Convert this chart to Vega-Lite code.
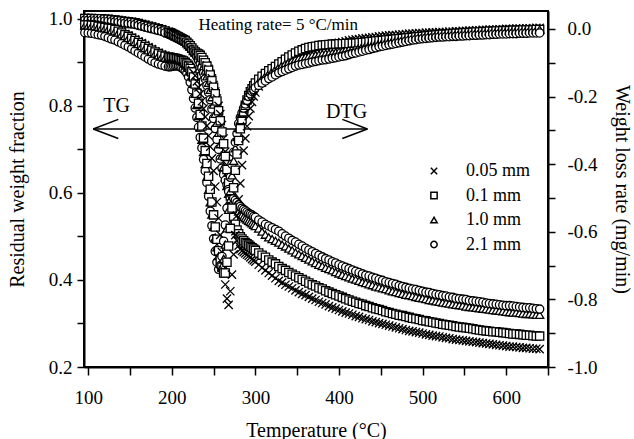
{
"$schema": "https://vega.github.io/schema/vega-lite/v6.json",
"width": 464, "height": 356,
"autosize": {"type": "none"},
"padding": {"left": 84, "top": 11, "right": 86, "bottom": 72},
"background": "white",
"config": {
 "font": "Liberation Serif",
 "view": {"stroke": "black", "strokeWidth": 2},
 "axis": {"domainColor": "black", "domainWidth": 2, "tickColor": "black", "tickWidth": 1.5, "labelColor": "black", "titleColor": "black", "labelFont": "Liberation Serif", "titleFont": "Liberation Serif", "labelFontSize": 19, "titleFontSize": 20, "titleFontWeight": "normal", "grid": false, "labelFlush": false, "labelOverlap": false}
},
"datasets": {
 "arrows": [
  {"T":106,"v":0.747,"T2":434,"v2":0.747},
  {"T":106,"v":0.747,"T2":136,"v2":0.769},
  {"T":106,"v":0.747,"T2":136,"v2":0.725},
  {"T":434,"v":0.747,"T2":404,"v2":0.769},
  {"T":434,"v":0.747,"T2":404,"v2":0.725}
 ],
 "labels": [{"T":134,"v":0.786,"label":"TG"},{"T":409,"v":0.772,"label":"DTG"}],
 "heat": [{"T":232,"v":0.975,"label":"Heating rate= 5 °C/min"}],
 "tg": [
{"T":96,"x":1.002,"q":1.001,"t":0.999,"o":0.997},
{"T":100,"x":1.002,"q":1.001,"t":0.999,"o":0.997},
{"T":104,"x":1.002,"q":1.001,"t":0.999,"o":0.997},
{"T":108,"x":1.001,"q":1.000,"t":0.998,"o":0.996},
{"T":112,"x":1.001,"q":1.000,"t":0.998,"o":0.996},
{"T":116,"x":1.001,"q":1.000,"t":0.998,"o":0.996},
{"T":120,"x":1.000,"q":0.999,"t":0.997,"o":0.995},
{"T":124,"x":1.000,"q":0.999,"t":0.997,"o":0.995},
{"T":128,"x":0.999,"q":0.998,"t":0.996,"o":0.994},
{"T":132,"x":0.998,"q":0.997,"t":0.995,"o":0.993},
{"T":136,"x":0.997,"q":0.996,"t":0.994,"o":0.992},
{"T":140,"x":0.996,"q":0.995,"t":0.993,"o":0.991},
{"T":144,"x":0.995,"q":0.994,"t":0.992,"o":0.990},
{"T":148,"x":0.994,"q":0.993,"t":0.991,"o":0.989},
{"T":152,"x":0.993,"q":0.992,"t":0.990,"o":0.988},
{"T":156,"x":0.992,"q":0.991,"t":0.989,"o":0.987},
{"T":160,"x":0.990,"q":0.989,"t":0.987,"o":0.985},
{"T":164,"x":0.988,"q":0.987,"t":0.985,"o":0.983},
{"T":168,"x":0.986,"q":0.985,"t":0.983,"o":0.981},
{"T":172,"x":0.984,"q":0.983,"t":0.981,"o":0.979},
{"T":176,"x":0.982,"q":0.981,"t":0.979,"o":0.977},
{"T":180,"x":0.980,"q":0.979,"t":0.977,"o":0.975},
{"T":184,"x":0.978,"q":0.977,"t":0.975,"o":0.973},
{"T":188,"x":0.976,"q":0.975,"t":0.973,"o":0.971},
{"T":192,"x":0.973,"q":0.972,"t":0.970,"o":0.968},
{"T":196,"x":0.970,"q":0.969,"t":0.967,"o":0.965},
{"T":198,"x":0.969,"q":0.968,"t":0.966,"o":0.964},
{"T":200,"x":0.967,"q":0.966,"t":0.964,"o":0.962},
{"T":202,"x":0.965,"q":0.964,"t":0.962,"o":0.960},
{"T":204,"x":0.963,"q":0.962,"t":0.960,"o":0.958},
{"T":206,"x":0.961,"q":0.960,"t":0.958,"o":0.956},
{"T":208,"x":0.959,"q":0.958,"t":0.956,"o":0.954},
{"T":210,"x":0.957,"q":0.956,"t":0.954,"o":0.952},
{"T":212,"x":0.955,"q":0.954,"t":0.952,"o":0.950},
{"T":214,"x":0.953,"q":0.952,"t":0.950,"o":0.948},
{"T":216,"x":0.950,"q":0.950,"t":0.948,"o":0.946},
{"T":218,"x":0.946,"q":0.946,"t":0.944,"o":0.942},
{"T":220,"x":0.942,"q":0.942,"t":0.940,"o":0.938},
{"T":222,"x":0.938,"q":0.938,"t":0.936,"o":0.934},
{"T":224,"x":0.933,"q":0.933,"t":0.931,"o":0.929},
{"T":226,"x":0.928,"q":0.928,"t":0.926,"o":0.924},
{"T":228,"x":0.924,"q":0.924,"t":0.923,"o":0.920},
{"T":230,"x":0.921,"q":0.921,"t":0.919,"o":0.913},
{"T":232,"x":0.919,"q":0.919,"t":0.914,"o":0.905},
{"T":234,"x":0.916,"q":0.916,"t":0.908,"o":0.897},
{"T":236,"x":0.911,"q":0.911,"t":0.900,"o":0.887},
{"T":238,"x":0.906,"q":0.905,"t":0.891,"o":0.875},
{"T":240,"x":0.900,"q":0.899,"t":0.881,"o":0.862},
{"T":242,"x":0.893,"q":0.891,"t":0.868,"o":0.847},
{"T":244,"x":0.885,"q":0.882,"t":0.853,"o":0.831},
{"T":246,"x":0.874,"q":0.871,"t":0.837,"o":0.814},
{"T":248,"x":0.863,"q":0.858,"t":0.820,"o":0.793},
{"T":250,"x":0.848,"q":0.843,"t":0.803,"o":0.771},
{"T":252,"x":0.833,"q":0.828,"t":0.782,"o":0.748},
{"T":254,"x":0.817,"q":0.811,"t":0.761,"o":0.723},
{"T":256,"x":0.800,"q":0.789,"t":0.738,"o":0.700},
{"T":258,"x":0.781,"q":0.766,"t":0.712,"o":0.678},
{"T":260,"x":0.756,"q":0.740,"t":0.686,"o":0.657},
{"T":262,"x":0.725,"q":0.713,"t":0.660,"o":0.642},
{"T":264,"x":0.695,"q":0.684,"t":0.636,"o":0.629},
{"T":266,"x":0.664,"q":0.654,"t":0.616,"o":0.618},
{"T":268,"x":0.632,"q":0.623,"t":0.598,"o":0.608},
{"T":270,"x":0.600,"q":0.593,"t":0.585,"o":0.600},
{"T":272,"x":0.569,"q":0.567,"t":0.578,"o":0.594},
{"T":274,"x":0.540,"q":0.545,"t":0.572,"o":0.588},
{"T":276,"x":0.512,"q":0.528,"t":0.567,"o":0.583},
{"T":278,"x":0.491,"q":0.515,"t":0.562,"o":0.578},
{"T":280,"x":0.479,"q":0.506,"t":0.557,"o":0.573},
{"T":282,"x":0.471,"q":0.499,"t":0.553,"o":0.569},
{"T":284,"x":0.467,"q":0.494,"t":0.549,"o":0.565},
{"T":286,"x":0.464,"q":0.490,"t":0.545,"o":0.562},
{"T":288,"x":0.461,"q":0.486,"t":0.542,"o":0.559},
{"T":290,"x":0.458,"q":0.483,"t":0.539,"o":0.556},
{"T":292,"x":0.455,"q":0.480,"t":0.536,"o":0.553},
{"T":294,"x":0.452,"q":0.477,"t":0.533,"o":0.551},
{"T":296,"x":0.448,"q":0.474,"t":0.530,"o":0.549},
{"T":298,"x":0.445,"q":0.471,"t":0.527,"o":0.546},
{"T":300,"x":0.442,"q":0.468,"t":0.524,"o":0.544},
{"T":304,"x":0.435,"q":0.462,"t":0.518,"o":0.538},
{"T":308,"x":0.428,"q":0.457,"t":0.511,"o":0.533},
{"T":312,"x":0.422,"q":0.452,"t":0.504,"o":0.528},
{"T":316,"x":0.416,"q":0.446,"t":0.498,"o":0.524},
{"T":320,"x":0.410,"q":0.441,"t":0.494,"o":0.520},
{"T":324,"x":0.404,"q":0.437,"t":0.490,"o":0.516},
{"T":328,"x":0.398,"q":0.431,"t":0.486,"o":0.512},
{"T":332,"x":0.394,"q":0.426,"t":0.481,"o":0.506},
{"T":336,"x":0.389,"q":0.422,"t":0.477,"o":0.501},
{"T":340,"x":0.385,"q":0.417,"t":0.472,"o":0.496},
{"T":344,"x":0.381,"q":0.413,"t":0.468,"o":0.491},
{"T":348,"x":0.376,"q":0.409,"t":0.463,"o":0.487},
{"T":352,"x":0.372,"q":0.405,"t":0.459,"o":0.482},
{"T":356,"x":0.368,"q":0.401,"t":0.455,"o":0.478},
{"T":360,"x":0.365,"q":0.397,"t":0.451,"o":0.473},
{"T":364,"x":0.361,"q":0.393,"t":0.447,"o":0.469},
{"T":368,"x":0.357,"q":0.389,"t":0.443,"o":0.465},
{"T":372,"x":0.354,"q":0.386,"t":0.439,"o":0.461},
{"T":376,"x":0.350,"q":0.382,"t":0.435,"o":0.457},
{"T":380,"x":0.347,"q":0.379,"t":0.432,"o":0.453},
{"T":384,"x":0.344,"q":0.375,"t":0.428,"o":0.449},
{"T":388,"x":0.340,"q":0.372,"t":0.425,"o":0.446},
{"T":392,"x":0.337,"q":0.369,"t":0.422,"o":0.442},
{"T":396,"x":0.334,"q":0.366,"t":0.418,"o":0.439},
{"T":400,"x":0.331,"q":0.363,"t":0.415,"o":0.435},
{"T":404,"x":0.328,"q":0.360,"t":0.412,"o":0.432},
{"T":408,"x":0.325,"q":0.357,"t":0.409,"o":0.429},
{"T":412,"x":0.323,"q":0.354,"t":0.406,"o":0.426},
{"T":416,"x":0.320,"q":0.351,"t":0.403,"o":0.423},
{"T":420,"x":0.317,"q":0.349,"t":0.401,"o":0.420},
{"T":424,"x":0.315,"q":0.346,"t":0.398,"o":0.417},
{"T":428,"x":0.312,"q":0.344,"t":0.395,"o":0.414},
{"T":432,"x":0.310,"q":0.341,"t":0.393,"o":0.411},
{"T":436,"x":0.308,"q":0.339,"t":0.390,"o":0.409},
{"T":440,"x":0.305,"q":0.336,"t":0.388,"o":0.406},
{"T":444,"x":0.303,"q":0.334,"t":0.385,"o":0.404},
{"T":448,"x":0.301,"q":0.332,"t":0.383,"o":0.401},
{"T":452,"x":0.299,"q":0.330,"t":0.381,"o":0.399},
{"T":456,"x":0.297,"q":0.327,"t":0.379,"o":0.396},
{"T":460,"x":0.295,"q":0.325,"t":0.376,"o":0.394},
{"T":464,"x":0.293,"q":0.323,"t":0.374,"o":0.392},
{"T":468,"x":0.291,"q":0.321,"t":0.372,"o":0.390},
{"T":472,"x":0.289,"q":0.319,"t":0.370,"o":0.387},
{"T":476,"x":0.287,"q":0.318,"t":0.368,"o":0.385},
{"T":480,"x":0.285,"q":0.316,"t":0.366,"o":0.383},
{"T":484,"x":0.283,"q":0.314,"t":0.365,"o":0.381},
{"T":488,"x":0.282,"q":0.312,"t":0.363,"o":0.379},
{"T":492,"x":0.280,"q":0.311,"t":0.361,"o":0.378},
{"T":496,"x":0.279,"q":0.309,"t":0.359,"o":0.376},
{"T":500,"x":0.277,"q":0.307,"t":0.358,"o":0.374},
{"T":504,"x":0.275,"q":0.306,"t":0.356,"o":0.372},
{"T":508,"x":0.274,"q":0.304,"t":0.354,"o":0.371},
{"T":512,"x":0.272,"q":0.303,"t":0.353,"o":0.369},
{"T":516,"x":0.271,"q":0.301,"t":0.351,"o":0.367},
{"T":520,"x":0.270,"q":0.300,"t":0.350,"o":0.366},
{"T":524,"x":0.268,"q":0.298,"t":0.348,"o":0.364},
{"T":528,"x":0.267,"q":0.297,"t":0.347,"o":0.363},
{"T":532,"x":0.266,"q":0.296,"t":0.346,"o":0.361},
{"T":536,"x":0.264,"q":0.295,"t":0.344,"o":0.360},
{"T":540,"x":0.263,"q":0.293,"t":0.343,"o":0.358},
{"T":544,"x":0.262,"q":0.292,"t":0.342,"o":0.357},
{"T":548,"x":0.261,"q":0.291,"t":0.341,"o":0.356},
{"T":552,"x":0.260,"q":0.290,"t":0.339,"o":0.355},
{"T":556,"x":0.259,"q":0.289,"t":0.338,"o":0.353},
{"T":560,"x":0.258,"q":0.288,"t":0.337,"o":0.352},
{"T":564,"x":0.257,"q":0.286,"t":0.336,"o":0.351},
{"T":568,"x":0.256,"q":0.285,"t":0.335,"o":0.350},
{"T":572,"x":0.255,"q":0.284,"t":0.334,"o":0.349},
{"T":576,"x":0.254,"q":0.283,"t":0.333,"o":0.347},
{"T":580,"x":0.253,"q":0.282,"t":0.332,"o":0.346},
{"T":584,"x":0.252,"q":0.281,"t":0.331,"o":0.345},
{"T":588,"x":0.251,"q":0.281,"t":0.330,"o":0.344},
{"T":592,"x":0.250,"q":0.280,"t":0.329,"o":0.343},
{"T":596,"x":0.249,"q":0.279,"t":0.328,"o":0.342},
{"T":600,"x":0.248,"q":0.278,"t":0.327,"o":0.341},
{"T":604,"x":0.247,"q":0.277,"t":0.326,"o":0.341},
{"T":608,"x":0.247,"q":0.276,"t":0.325,"o":0.340},
{"T":612,"x":0.246,"q":0.276,"t":0.325,"o":0.339},
{"T":616,"x":0.245,"q":0.275,"t":0.324,"o":0.338},
{"T":620,"x":0.244,"q":0.274,"t":0.323,"o":0.337},
{"T":624,"x":0.244,"q":0.273,"t":0.322,"o":0.336},
{"T":628,"x":0.243,"q":0.273,"t":0.322,"o":0.336},
{"T":632,"x":0.242,"q":0.272,"t":0.321,"o":0.335},
{"T":636,"x":0.242,"q":0.271,"t":0.320,"o":0.334},
{"T":640,"x":0.241,"q":0.271,"t":0.320,"o":0.333}
 ],
 "dtg": [
{"T":96,"x":0.016,"q":0.012,"t":0.010,"o":-0.011},
{"T":100,"x":0.015,"q":0.012,"t":0.010,"o":-0.012},
{"T":104,"x":0.014,"q":0.011,"t":0.009,"o":-0.013},
{"T":108,"x":0.012,"q":0.010,"t":0.008,"o":-0.015},
{"T":112,"x":0.010,"q":0.008,"t":0.006,"o":-0.017},
{"T":116,"x":0.008,"q":0.006,"t":0.004,"o":-0.019},
{"T":120,"x":0.006,"q":0.004,"t":0.002,"o":-0.022},
{"T":124,"x":0.003,"q":0.002,"t":0.000,"o":-0.026},
{"T":128,"x":0.000,"q":0.001,"t":-0.004,"o":-0.030},
{"T":132,"x":-0.003,"q":-0.002,"t":-0.007,"o":-0.033},
{"T":136,"x":-0.006,"q":-0.007,"t":-0.011,"o":-0.038},
{"T":140,"x":-0.010,"q":-0.012,"t":-0.016,"o":-0.043},
{"T":144,"x":-0.015,"q":-0.017,"t":-0.021,"o":-0.048},
{"T":148,"x":-0.020,"q":-0.022,"t":-0.027,"o":-0.053},
{"T":152,"x":-0.026,"q":-0.028,"t":-0.033,"o":-0.059},
{"T":156,"x":-0.031,"q":-0.034,"t":-0.039,"o":-0.065},
{"T":160,"x":-0.037,"q":-0.040,"t":-0.045,"o":-0.071},
{"T":164,"x":-0.042,"q":-0.046,"t":-0.051,"o":-0.077},
{"T":168,"x":-0.048,"q":-0.052,"t":-0.057,"o":-0.083},
{"T":172,"x":-0.054,"q":-0.058,"t":-0.063,"o":-0.089},
{"T":176,"x":-0.060,"q":-0.063,"t":-0.068,"o":-0.095},
{"T":180,"x":-0.066,"q":-0.068,"t":-0.073,"o":-0.100},
{"T":184,"x":-0.071,"q":-0.073,"t":-0.078,"o":-0.104},
{"T":188,"x":-0.076,"q":-0.078,"t":-0.082,"o":-0.107},
{"T":192,"x":-0.080,"q":-0.081,"t":-0.085,"o":-0.110},
{"T":196,"x":-0.083,"q":-0.083,"t":-0.087,"o":-0.112},
{"T":198,"x":-0.084,"q":-0.084,"t":-0.088,"o":-0.112},
{"T":200,"x":-0.086,"q":-0.085,"t":-0.088,"o":-0.111},
{"T":202,"x":-0.088,"q":-0.086,"t":-0.089,"o":-0.110},
{"T":204,"x":-0.090,"q":-0.087,"t":-0.089,"o":-0.109},
{"T":206,"x":-0.091,"q":-0.088,"t":-0.090,"o":-0.109},
{"T":208,"x":-0.092,"q":-0.090,"t":-0.091,"o":-0.110},
{"T":210,"x":-0.093,"q":-0.092,"t":-0.093,"o":-0.112},
{"T":212,"x":-0.095,"q":-0.093,"t":-0.095,"o":-0.115},
{"T":214,"x":-0.098,"q":-0.095,"t":-0.098,"o":-0.119},
{"T":216,"x":-0.100,"q":-0.099,"t":-0.103,"o":-0.124},
{"T":218,"x":-0.103,"q":-0.104,"t":-0.108,"o":-0.131},
{"T":220,"x":-0.106,"q":-0.110,"t":-0.115,"o":-0.142},
{"T":222,"x":-0.112,"q":-0.117,"t":-0.126,"o":-0.158},
{"T":224,"x":-0.121,"q":-0.127,"t":-0.141,"o":-0.180},
{"T":226,"x":-0.130,"q":-0.142,"t":-0.162,"o":-0.206},
{"T":228,"x":-0.138,"q":-0.163,"t":-0.192,"o":-0.234},
{"T":230,"x":-0.155,"q":-0.190,"t":-0.225,"o":-0.262},
{"T":232,"x":-0.173,"q":-0.220,"t":-0.258,"o":-0.291},
{"T":234,"x":-0.192,"q":-0.253,"t":-0.292,"o":-0.321},
{"T":236,"x":-0.214,"q":-0.287,"t":-0.328,"o":-0.352},
{"T":238,"x":-0.236,"q":-0.323,"t":-0.364,"o":-0.386},
{"T":240,"x":-0.260,"q":-0.360,"t":-0.400,"o":-0.420},
{"T":242,"x":-0.287,"q":-0.398,"t":-0.438,"o":-0.455},
{"T":244,"x":-0.316,"q":-0.436,"t":-0.476,"o":-0.495},
{"T":246,"x":-0.348,"q":-0.474,"t":-0.513,"o":-0.539},
{"T":248,"x":-0.383,"q":-0.512,"t":-0.549,"o":-0.582},
{"T":250,"x":-0.420,"q":-0.550,"t":-0.585,"o":-0.621},
{"T":252,"x":-0.466,"q":-0.586,"t":-0.617,"o":-0.658},
{"T":254,"x":-0.512,"q":-0.622,"t":-0.646,"o":-0.690},
{"T":256,"x":-0.560,"q":-0.656,"t":-0.672,"o":-0.711},
{"T":258,"x":-0.609,"q":-0.684,"t":-0.695,"o":-0.700},
{"T":260,"x":-0.660,"q":-0.705,"t":-0.703,"o":-0.673},
{"T":262,"x":-0.713,"q":-0.722,"t":-0.680,"o":-0.628},
{"T":264,"x":-0.756,"q":-0.722,"t":-0.638,"o":-0.580},
{"T":266,"x":-0.798,"q":-0.690,"t":-0.590,"o":-0.530},
{"T":268,"x":-0.816,"q":-0.642,"t":-0.535,"o":-0.481},
{"T":270,"x":-0.776,"q":-0.590,"t":-0.480,"o":-0.439},
{"T":272,"x":-0.727,"q":-0.530,"t":-0.433,"o":-0.400},
{"T":274,"x":-0.667,"q":-0.470,"t":-0.390,"o":-0.365},
{"T":276,"x":-0.610,"q":-0.418,"t":-0.353,"o":-0.335},
{"T":278,"x":-0.552,"q":-0.370,"t":-0.320,"o":-0.310},
{"T":280,"x":-0.504,"q":-0.330,"t":-0.293,"o":-0.280},
{"T":282,"x":-0.457,"q":-0.295,"t":-0.270,"o":-0.262},
{"T":284,"x":-0.403,"q":-0.268,"t":-0.251,"o":-0.248},
{"T":286,"x":-0.360,"q":-0.245,"t":-0.235,"o":-0.234},
{"T":288,"x":-0.324,"q":-0.226,"t":-0.221,"o":-0.222},
{"T":290,"x":-0.288,"q":-0.210,"t":-0.208,"o":-0.211},
{"T":292,"x":-0.258,"q":-0.197,"t":-0.198,"o":-0.200},
{"T":294,"x":-0.235,"q":-0.186,"t":-0.189,"o":-0.192},
{"T":296,"x":-0.216,"q":-0.177,"t":-0.181,"o":-0.185},
{"T":298,"x":-0.200,"q":-0.168,"t":-0.174,"o":-0.179},
{"T":300,"x":-0.188,"q":-0.160,"t":-0.168,"o":-0.174},
{"T":304,"x":-0.170,"q":-0.149,"t":-0.156,"o":-0.167},
{"T":308,"x":-0.158,"q":-0.140,"t":-0.146,"o":-0.160},
{"T":312,"x":-0.147,"q":-0.132,"t":-0.138,"o":-0.154},
{"T":316,"x":-0.136,"q":-0.124,"t":-0.131,"o":-0.147},
{"T":320,"x":-0.128,"q":-0.118,"t":-0.125,"o":-0.142},
{"T":324,"x":-0.117,"q":-0.111,"t":-0.118,"o":-0.136},
{"T":328,"x":-0.105,"q":-0.104,"t":-0.112,"o":-0.130},
{"T":332,"x":-0.100,"q":-0.097,"t":-0.106,"o":-0.126},
{"T":336,"x":-0.096,"q":-0.090,"t":-0.101,"o":-0.122},
{"T":340,"x":-0.090,"q":-0.083,"t":-0.097,"o":-0.118},
{"T":344,"x":-0.085,"q":-0.077,"t":-0.093,"o":-0.114},
{"T":348,"x":-0.078,"q":-0.071,"t":-0.089,"o":-0.110},
{"T":352,"x":-0.073,"q":-0.066,"t":-0.086,"o":-0.107},
{"T":356,"x":-0.070,"q":-0.062,"t":-0.084,"o":-0.105},
{"T":360,"x":-0.066,"q":-0.058,"t":-0.082,"o":-0.103},
{"T":364,"x":-0.063,"q":-0.055,"t":-0.080,"o":-0.101},
{"T":368,"x":-0.060,"q":-0.053,"t":-0.078,"o":-0.098},
{"T":372,"x":-0.057,"q":-0.051,"t":-0.077,"o":-0.096},
{"T":376,"x":-0.054,"q":-0.049,"t":-0.076,"o":-0.094},
{"T":380,"x":-0.052,"q":-0.048,"t":-0.074,"o":-0.092},
{"T":384,"x":-0.050,"q":-0.047,"t":-0.073,"o":-0.091},
{"T":388,"x":-0.047,"q":-0.046,"t":-0.072,"o":-0.089},
{"T":392,"x":-0.045,"q":-0.045,"t":-0.071,"o":-0.087},
{"T":396,"x":-0.043,"q":-0.045,"t":-0.069,"o":-0.085},
{"T":400,"x":-0.041,"q":-0.044,"t":-0.067,"o":-0.083},
{"T":404,"x":-0.039,"q":-0.044,"t":-0.065,"o":-0.081},
{"T":408,"x":-0.037,"q":-0.043,"t":-0.062,"o":-0.079},
{"T":412,"x":-0.034,"q":-0.043,"t":-0.060,"o":-0.076},
{"T":416,"x":-0.032,"q":-0.042,"t":-0.057,"o":-0.073},
{"T":420,"x":-0.031,"q":-0.042,"t":-0.055,"o":-0.071},
{"T":424,"x":-0.030,"q":-0.041,"t":-0.053,"o":-0.068},
{"T":428,"x":-0.028,"q":-0.040,"t":-0.050,"o":-0.066},
{"T":432,"x":-0.027,"q":-0.039,"t":-0.048,"o":-0.063},
{"T":436,"x":-0.026,"q":-0.038,"t":-0.046,"o":-0.061},
{"T":440,"x":-0.025,"q":-0.037,"t":-0.044,"o":-0.058},
{"T":444,"x":-0.024,"q":-0.036,"t":-0.042,"o":-0.056},
{"T":448,"x":-0.022,"q":-0.035,"t":-0.040,"o":-0.053},
{"T":452,"x":-0.021,"q":-0.034,"t":-0.038,"o":-0.051},
{"T":456,"x":-0.020,"q":-0.033,"t":-0.037,"o":-0.049},
{"T":460,"x":-0.019,"q":-0.032,"t":-0.035,"o":-0.047},
{"T":464,"x":-0.018,"q":-0.031,"t":-0.033,"o":-0.045},
{"T":468,"x":-0.018,"q":-0.030,"t":-0.032,"o":-0.043},
{"T":472,"x":-0.017,"q":-0.029,"t":-0.030,"o":-0.041},
{"T":476,"x":-0.016,"q":-0.028,"t":-0.029,"o":-0.039},
{"T":480,"x":-0.015,"q":-0.027,"t":-0.027,"o":-0.037},
{"T":484,"x":-0.014,"q":-0.026,"t":-0.026,"o":-0.035},
{"T":488,"x":-0.014,"q":-0.025,"t":-0.025,"o":-0.033},
{"T":492,"x":-0.013,"q":-0.024,"t":-0.023,"o":-0.032},
{"T":496,"x":-0.012,"q":-0.023,"t":-0.022,"o":-0.030},
{"T":500,"x":-0.012,"q":-0.022,"t":-0.020,"o":-0.029},
{"T":504,"x":-0.011,"q":-0.021,"t":-0.019,"o":-0.028},
{"T":508,"x":-0.011,"q":-0.020,"t":-0.018,"o":-0.027},
{"T":512,"x":-0.010,"q":-0.019,"t":-0.017,"o":-0.026},
{"T":516,"x":-0.010,"q":-0.018,"t":-0.016,"o":-0.025},
{"T":520,"x":-0.009,"q":-0.017,"t":-0.015,"o":-0.024},
{"T":524,"x":-0.009,"q":-0.016,"t":-0.015,"o":-0.024},
{"T":528,"x":-0.009,"q":-0.016,"t":-0.014,"o":-0.023},
{"T":532,"x":-0.008,"q":-0.015,"t":-0.013,"o":-0.023},
{"T":536,"x":-0.008,"q":-0.014,"t":-0.012,"o":-0.022},
{"T":540,"x":-0.007,"q":-0.013,"t":-0.012,"o":-0.022},
{"T":544,"x":-0.007,"q":-0.013,"t":-0.011,"o":-0.021},
{"T":548,"x":-0.006,"q":-0.012,"t":-0.010,"o":-0.021},
{"T":552,"x":-0.006,"q":-0.011,"t":-0.010,"o":-0.020},
{"T":556,"x":-0.005,"q":-0.011,"t":-0.009,"o":-0.020},
{"T":560,"x":-0.005,"q":-0.010,"t":-0.009,"o":-0.019},
{"T":564,"x":-0.004,"q":-0.009,"t":-0.008,"o":-0.019},
{"T":568,"x":-0.004,"q":-0.009,"t":-0.008,"o":-0.018},
{"T":572,"x":-0.003,"q":-0.008,"t":-0.007,"o":-0.018},
{"T":576,"x":-0.003,"q":-0.008,"t":-0.007,"o":-0.017},
{"T":580,"x":-0.002,"q":-0.007,"t":-0.006,"o":-0.017},
{"T":584,"x":-0.002,"q":-0.007,"t":-0.006,"o":-0.016},
{"T":588,"x":-0.002,"q":-0.006,"t":-0.005,"o":-0.016},
{"T":592,"x":-0.001,"q":-0.006,"t":-0.005,"o":-0.015},
{"T":596,"x":-0.001,"q":-0.005,"t":-0.004,"o":-0.015},
{"T":600,"x":0.000,"q":-0.005,"t":-0.004,"o":-0.015},
{"T":604,"x":0.000,"q":-0.005,"t":-0.004,"o":-0.014},
{"T":608,"x":0.000,"q":-0.004,"t":-0.003,"o":-0.014},
{"T":612,"x":0.001,"q":-0.004,"t":-0.003,"o":-0.014},
{"T":616,"x":0.001,"q":-0.004,"t":-0.003,"o":-0.013},
{"T":620,"x":0.001,"q":-0.003,"t":-0.003,"o":-0.013},
{"T":624,"x":0.002,"q":-0.003,"t":-0.002,"o":-0.013},
{"T":628,"x":0.002,"q":-0.003,"t":-0.002,"o":-0.012},
{"T":632,"x":0.002,"q":-0.003,"t":-0.002,"o":-0.012},
{"T":636,"x":0.003,"q":-0.002,"t":-0.002,"o":-0.012},
{"T":640,"x":0.003,"q":-0.002,"t":-0.002,"o":-0.012}
 ]
},
"encoding": {
 "x": {"field": "T", "type": "quantitative", "title": "Temperature (°C)",
  "scale": {"domain": [95, 650], "nice": false, "zero": false},
  "axis": {"values": [100,150,200,250,300,350,400,450,500,550,600,650], "labelExpr": "datum.value % 100 == 0 ? datum.label : ''", "tickSize": 8, "labelPadding": 28, "labelBaseline": "alphabetic", "titleY": 69, "titleBaseline": "alphabetic"}}
},
"layer": [
 {
  "encoding": {
   "y": {"field": "v", "type": "quantitative", "title": "Residual weight fraction",
    "scale": {"domain": [0.2, 1.018], "nice": false, "zero": false},
    "axis": {"orient": "left", "values": [0.2,0.3,0.4,0.5,0.6,0.7,0.8,0.9,1.0], "labelExpr": "round(datum.value*10) % 2 == 0 ? format(datum.value, '.1f') : ''", "tickSize": 7, "labelPadding": 5, "titleX": -61, "titleY": 178, "titleAngle": 270, "titleBaseline": "alphabetic", "titleAlign": "center"}}
  },
  "layer": [
   {"data": {"name": "arrows"}, "mark": {"type": "rule", "stroke": "black", "strokeWidth": 1.5}, "encoding": {"x2": {"field": "T2"}, "y2": {"field": "v2"}}},
   {"data": {"name": "labels"}, "mark": {"type": "text", "font": "Liberation Serif", "fontSize": 20, "align": "center", "baseline": "alphabetic", "fill": "black"}, "encoding": {"text": {"field": "label"}}},
   {"data": {"name": "heat"}, "mark": {"type": "text", "font": "Liberation Serif", "fontSize": 17, "align": "left", "baseline": "alphabetic", "fill": "black"}, "encoding": {"text": {"field": "label"}}},
   {"data": {"name": "tg"}, "transform": [{"fold": ["x","q","t","o"], "as": ["s","v"]}],
    "mark": {"type": "point", "filled": true, "fill": "white", "stroke": "black", "strokeWidth": 1.3, "size": 68, "opacity": 1},
    "encoding": {"shape": {"field": "s", "type": "nominal",
     "scale": {"domain": ["x","q","t","o"], "range": ["M-1,-1L1,1M-1,1L1,-1", "square", "triangle-up", "circle"]},
     "legend": {"title": null, "orient": "none", "legendX": 341, "legendY": 151, "padding": 0, "symbolSize": 40, "labelFont": "Liberation Serif", "labelFontSize": 18, "labelColor": "black", "labelOffset": 23, "rowPadding": 6.5,
      "labelExpr": "datum.label == 'x' ? '0.05 mm' : datum.label == 'q' ? '0.1 mm' : datum.label == 't' ? '1.0 mm' : '2.1 mm'",
      "encode": {"symbols": {"update": {"fill": {"value": "white"}, "stroke": {"value": "black"}, "strokeWidth": {"value": 1.2}, "opacity": {"value": 1}}}}}}}}
  ]
 },
 {"data": {"name": "dtg"}, "transform": [{"fold": ["x","q","t","o"], "as": ["s","v"]}],
  "mark": {"type": "point", "filled": true, "fill": "white", "stroke": "black", "strokeWidth": 1.3, "size": 68, "opacity": 1},
  "encoding": {
   "y": {"field": "v", "type": "quantitative", "title": "Weight loss rate (mg/min)",
    "scale": {"domain": [-1.0, 0.053], "nice": false, "zero": false},
    "axis": {"orient": "right", "values": [-1.0,-0.9,-0.8,-0.7,-0.6,-0.5,-0.4,-0.3,-0.2,-0.1,0.0], "labelExpr": "round(datum.value*10) % 2 == 0 ? (datum.value < -0.001 ? '-' : '') + format(abs(datum.value), '.1f') : ''", "tickSize": 7, "labelPadding": 12, "titleX": 67, "titleY": 178, "titleAngle": 90, "titleBaseline": "alphabetic", "titleAlign": "center"}},
   "shape": {"field": "s", "type": "nominal",
     "scale": {"domain": ["x","q","t","o"], "range": ["M-1,-1L1,1M-1,1L1,-1", "square", "triangle-up", "circle"]},
     "legend": {"title": null, "orient": "none", "legendX": 341, "legendY": 151, "padding": 0, "symbolSize": 40, "labelFont": "Liberation Serif", "labelFontSize": 18, "labelColor": "black", "labelOffset": 23, "rowPadding": 6.5,
      "labelExpr": "datum.label == 'x' ? '0.05 mm' : datum.label == 'q' ? '0.1 mm' : datum.label == 't' ? '1.0 mm' : '2.1 mm'",
      "encode": {"symbols": {"update": {"fill": {"value": "white"}, "stroke": {"value": "black"}, "strokeWidth": {"value": 1.2}, "opacity": {"value": 1}}}}}}
  }
 }
],
"resolve": {"scale": {"y": "independent"}}
}
